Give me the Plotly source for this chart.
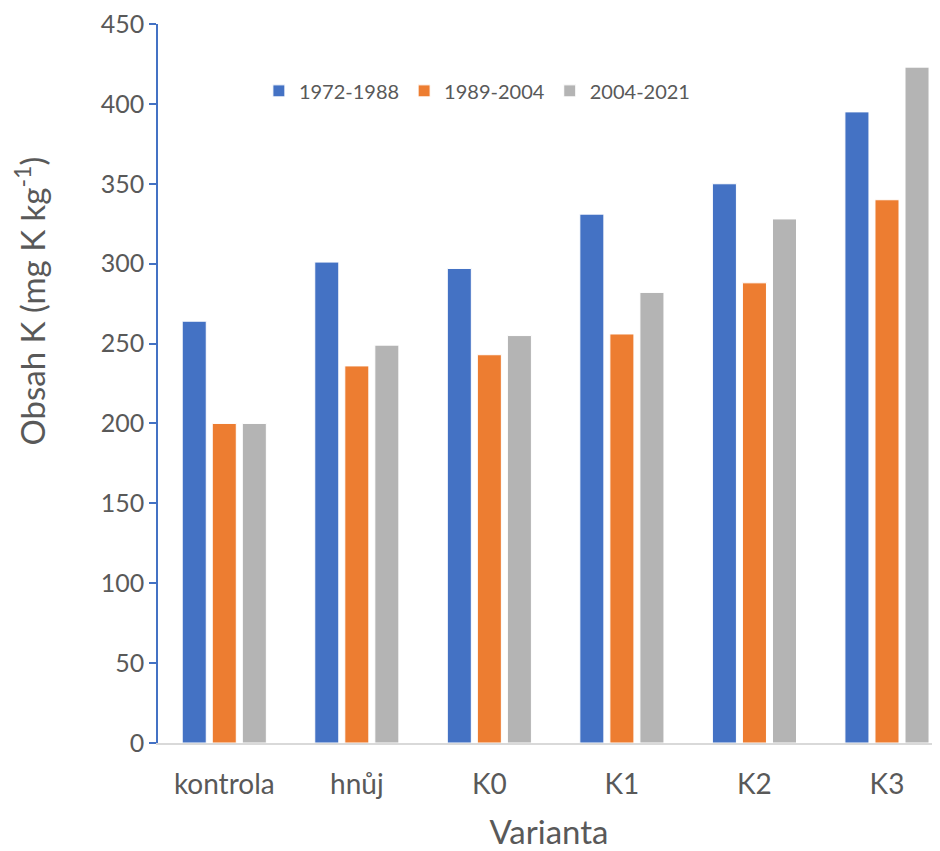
import plotly.graph_objects as go

categories = ["kontrola", "hnůj", "K0", "K1", "K2", "K3"]
series_names = ["1972-1988", "1989-2004", "2004-2021"]
s1 = [264, 301, 297, 331, 350, 395]
s2 = [200, 236, 243, 256, 288, 340]
s3 = [200, 249, 255, 282, 328, 423]
colors = ["#4472C4", "#ED7D31", "#B4B4B4"]
y_ticks = [0, 50, 100, 150, 200, 250, 300, 350, 400, 450]
y_title = "Obsah K (mg K kg<sup>-1</sup>)"
x_title = "Varianta"

font_family = "Lato, 'Open Sans', sans-serif"
gray = "#595959"

fig = go.Figure()
for name, vals, col in zip(series_names, [s1, s2, s3], colors):
    fig.add_trace(go.Bar(
        x=categories, y=vals, name=name,
        marker=dict(color=col, line=dict(color="white", width=1)),
    ))

# page body has an 8px margin, so the figure is shrunk by 8px to fit the window
fig.update_layout(
    width=932, height=843,
    margin=dict(l=150, r=0, t=16, b=108),
    paper_bgcolor="white", plot_bgcolor="white",
    barmode="group", bargap=0.32, bargroupgap=0.2,
    font=dict(family=font_family, color=gray),
    legend=dict(
        orientation="h", x=0.129, y=0.907, xanchor="left", yanchor="middle",
        font=dict(size=20, color=gray, family=font_family),
        traceorder="normal", bgcolor="rgba(0,0,0,0)",
    ),
    xaxis=dict(
        range=[-0.5, 5.4],
        showline=True, linecolor="#D9D9D9", linewidth=1.5,
        showgrid=False, ticks="",
        ticklabelstandoff=16,
        tickfont=dict(size=28, color=gray),
        title=dict(text=x_title, font=dict(size=33, color=gray), standoff=22),
    ),
    yaxis=dict(
        range=[0, 450], tickvals=y_ticks,
        showline=True, linecolor="#4472C4", linewidth=1.5,
        ticks="outside", tickcolor="#4472C4", ticklen=7, tickwidth=1.5,
        showgrid=False, zeroline=False,
        ticklabeloverflow="allow",
        tickfont=dict(size=25, color=gray),
    ),
    annotations=[dict(
        text=y_title, textangle=-90, showarrow=False,
        xref="paper", yref="paper", x=-0.164, y=0.615,
        xanchor="center", yanchor="middle",
        font=dict(size=33, color=gray, family=font_family),
    )],
)

fig.write_html("out.html")
